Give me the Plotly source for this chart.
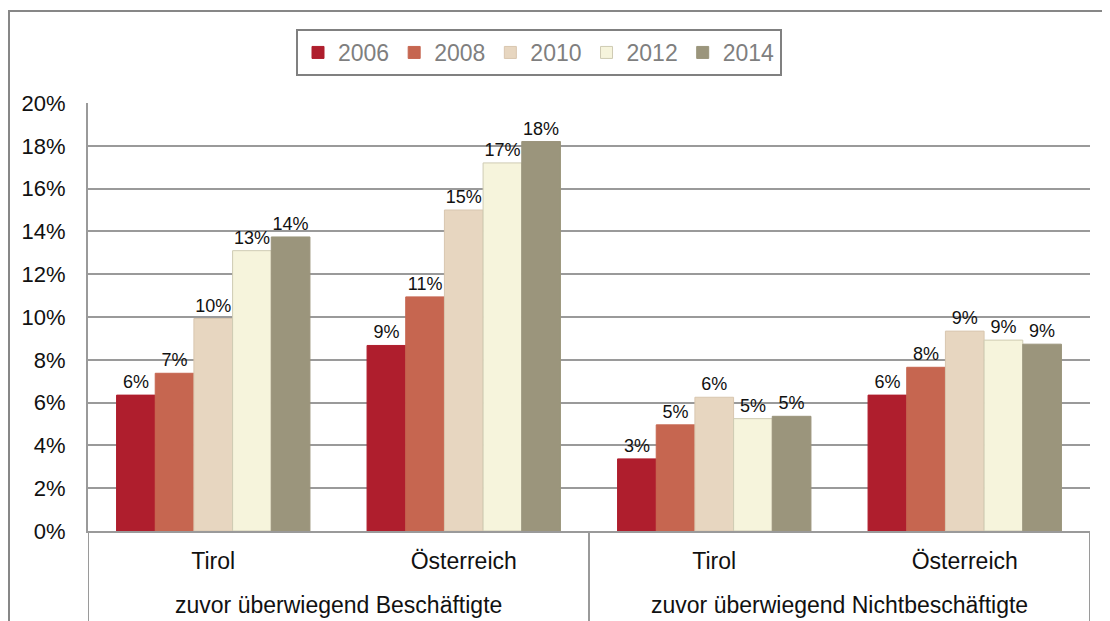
import plotly.graph_objects as go

groups = ["zuvor überwiegend Beschäftigte", "zuvor überwiegend Nichtbeschäftigte"]
regions = ["Tirol", "Österreich", "Tirol", "Österreich"]
years = ["2006", "2008", "2010", "2012", "2014"]
v2006 = [0.0635, 0.0867, 0.0337, 0.0635]
v2008 = [0.0737, 0.1094, 0.0496, 0.0765]
v2010 = [0.0993, 0.1500, 0.0625, 0.0934]
v2012 = [0.1310, 0.1720, 0.0525, 0.0892]
v2014 = [0.1374, 0.1820, 0.0536, 0.0873]
yticks = [0, 0.02, 0.04, 0.06, 0.08, 0.10, 0.12, 0.14, 0.16, 0.18, 0.20]

series = [v2006, v2008, v2010, v2012, v2014]
colors = ["#AF1E2D", "#C66650", "#E7D6C0", "#F6F4DC", "#9B957C"]
lines = ["#AF1E2D", "#C66650", "#D8C6AF", "#CFCBB3", "#9B957C"]

FONT = "Liberation Sans, Arial, sans-serif"
xpos = list(range(len(regions)))
fig = go.Figure()
for yr, vals, c, lc in zip(years, series, colors, lines):
    fig.add_trace(go.Bar(
        x=xpos, y=vals, name=yr,
        marker=dict(color=c, line=dict(color=lc, width=1)),
        texttemplate="%{y:.0%}", textposition="outside",
        textfont=dict(family=FONT, size=18, color="#111111"),
        cliponaxis=False,
    ))

# page body has an 8px margin, so figure coordinates = reference pixels - 8
OFF = 8
W, H = 1110 - OFF, 621 - OFF
L, T = 88 - OFF, 103 - OFF
R = W - (1090 - OFF)
B = H - (531 - OFF)
ph = H - T - B
pw = W - L - R

def px_y(py):
    return 1 + (T - (py - OFF)) / ph

def px_x(px):
    return ((px - OFF) - L) / pw

shapes = []
shapes.append(dict(type="rect", xref="paper", yref="paper",
                   x0=px_x(9), x1=px_x(1130), y0=px_y(11), y1=px_y(650),
                   line=dict(color="#878787", width=2), fillcolor="rgba(0,0,0,0)", layer="below"))
for xv in [-0.5, 1.5, 3.5]:
    shapes.append(dict(type="line", xref="x", yref="paper", x0=xv, x1=xv,
                       y0=0, y1=px_y(640), line=dict(color="#9a9a9a", width=2)))

annotations = []
for i, g in enumerate(groups):
    annotations.append(dict(x=0.5 + 2 * i, y=px_y(605), xref="x", yref="paper",
                            text=g, showarrow=False, yanchor="middle",
                            font=dict(family=FONT, size=23, color="#111111")))

fig.update_layout(
    width=W, height=H,
    margin=dict(l=L, r=R, t=T, b=B, autoexpand=False),
    paper_bgcolor="white", plot_bgcolor="white",
    barmode="group", bargap=0.228, bargroupgap=0,
    font=dict(family=FONT, color="#111111"),
    legend=dict(orientation="h", x=px_x(539), xanchor="center", y=px_y(29), yanchor="top",
                bordercolor="#808080", borderwidth=2, bgcolor="white",
                font=dict(size=23, color="#7f7f7f"), itemwidth=30, traceorder="normal"),
    shapes=shapes, annotations=annotations,
    showlegend=True,
)
fig.update_xaxes(
    range=[-0.5, 3.5], tickvals=xpos, ticktext=regions, automargin=False,
    showline=True, linecolor="#9a9a9a", linewidth=2, showgrid=False,
    ticks="", ticklabelstandoff=8,
    tickfont=dict(family=FONT, size=23, color="#111111"),
)
fig.update_yaxes(
    range=[0, 0.20], tickvals=yticks, tickformat=".0%", automargin=False,
    showgrid=True, gridcolor="#9a9a9a", gridwidth=1.5,
    showline=True, linecolor="#9a9a9a", linewidth=2, zeroline=False,
    ticks="", ticklabelstandoff=16,
    tickfont=dict(family=FONT, size=22, color="#111111"),
)
fig.write_html("out.html")
